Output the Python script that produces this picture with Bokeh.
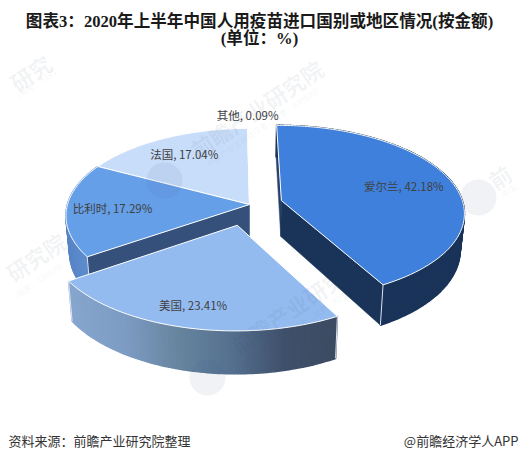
import math
from bokeh.plotting import figure
from bokeh.models import Range1d
from bokeh.core.properties import value
from bokeh.embed import file_html
from bokeh.resources import INLINE

# ---- data ----
CATEGORIES = ["爱尔兰", "美国", "比利时", "法国", "其他"]
SHARES = [42.18, 23.41, 17.29, 17.04, 0.09]
TITLE_LINES = ["图表3：2020年上半年中国人用疫苗进口国别或地区情况(按金额)", "(单位：%)"]
SOURCE_TEXT = "资料来源：前瞻产业研究院整理"
BRAND_TEXT = "@前瞻经济学人APP"
WATERMARK_MAIN = ["前瞻产业研究院", "前瞻产业研究院", "研究", "研究院", "前"]
WATERMARK_SUB = ["中国产业咨询领导者（股票：839599）", "中国产业咨询领导者（股票：839599）",
                 "（股票：8395", "（股票：839599）", "中国"]

# ---- styling / layout ----
TOP_COLORS = ["#3f80dc", "#94bbf0", "#659fe8", "#c8ddf9", "#dfe9f7"]
EXPLODE = [0.182, 0.243, 0.0, 0.0, 0.0]
EXPLODE_SHIFT = [0.0, 2.0, 0.0, 0.0, 0.0]
LABEL_R = [0.72, 0.81, 0.75, 0.745, 1.2]
LABEL_SHIFT = [0.0, 1.0, 0.0, 0.0, 0.0]
START_ANGLE = -0.4
CX, CY, RX, RY, PERSP = 249.0, 204.0, 182.0, 86.0, 0.13
DEPTH, BOTTOM_SHRINK = 36.0, 0.98
W, H = 519, 460

CJK = value("'Noto Sans CJK SC'")
TITLE_FONT = value("'Liberation Serif', 'Noto Sans CJK SC'")
WM_ANGLE = 34.0
WM_MAIN_POS = [(256, 108), (296, 304), (30, 72), (35, 256), (499, 176)]
WM_SUB_POS = [(264, 125), (304, 321), (34, 84), (38, 280), (508, 190)]
WM_LOGOS = [(164, 180), (207, 377), (478, 197)]


def project(i, theta, r=1.0, bottom=False):
    """Screen position of polar point (theta deg, r) of slice i, with perspective."""
    m = _mid[i] + math.radians(EXPLODE_SHIFT[i])
    e = EXPLODE[i]
    X = e * math.sin(m) + r * math.sin(math.radians(theta))
    Y = -e * math.cos(m) - r * math.cos(math.radians(theta))
    s = 1.0 / (1.0 - PERSP * Y)
    x, y = RX * X * s, RY * Y * s
    if bottom:
        return CX + x * BOTTOM_SHRINK, CY + y * BOTTOM_SHRINK + DEPTH * s + 0.02 * y
    return CX + x, CY + y


def hex2rgb(h):
    return tuple(int(h[k:k + 2], 16) for k in (1, 3, 5))


def ramp(stops, t):
    t = max(0.0, min(1.0, t))
    f = t * (len(stops) - 1)
    k = min(int(f), len(stops) - 2)
    a, b = hex2rgb(stops[k]), hex2rgb(stops[k + 1])
    u = f - k
    return "#%02x%02x%02x" % tuple(round(a[j] + (b[j] - a[j]) * u) for j in range(3))


total = sum(SHARES)
_bounds = []
_a = START_ANGLE
for v in SHARES:
    _bounds.append((_a, _a + v / total * 360.0))
    _a += v / total * 360.0
_mid = [math.radians((a + b) / 2) for a, b in _bounds]

p = figure(width=W, height=H, output_backend="svg", toolbar_location=None,
           x_range=Range1d(0, W), y_range=Range1d(H, 0),
           min_border=0, outline_line_color=None, background_fill_color="white")
p.axis.visible = False
p.grid.visible = False


def arc(i, n_per_deg=1.0):
    a, b = _bounds[i]
    n = max(2, int(abs(b - a) * n_per_deg))
    return [a + (b - a) * k / n for k in range(n + 1)]


def draw_top(i):
    th = arc(i)
    pts = [project(i, 0, 0.0)] + [project(i, t) for t in th]
    p.patch([q[0] for q in pts], [q[1] for q in pts], fill_color=TOP_COLORS[i],
            line_color="white", line_width=1.0, line_join="round")


def draw_cut(i, theta, color):
    a0, a1 = project(i, theta, 0.0), project(i, theta)
    b0, b1 = project(i, theta, 0.0, True), project(i, theta, 1.0, True)
    p.patch([a0[0], a1[0], b1[0], b0[0]], [a0[1], a1[1], b1[1], b0[1]], fill_color=color,
            line_color=color, line_width=0.5)


def draw_wall(i, stops, xlo, xhi):
    th = arc(i)
    xs, ys, cs = [], [], []
    for t0, t1 in zip(th[:-1], th[1:]):
        a0, a1 = project(i, t0), project(i, t1)
        b0, b1 = project(i, t0, 1.0, True), project(i, t1, 1.0, True)
        xs.append([a0[0], a1[0], b1[0], b0[0]])
        ys.append([a0[1], a1[1], b1[1], b0[1]])
        cs.append(ramp(stops, ((a0[0] + a1[0]) / 2 - xlo) / (xhi - xlo)))
    p.patches(xs, ys, fill_color=cs, line_color=cs, line_width=1.5)


def edge(i, theta, r=1.0, color="#dfe6f0"):
    a, b = project(i, theta, r), project(i, theta, r, True)
    p.line([a[0], b[0]], [a[1], b[1]], line_color=color, line_width=1.0)


IRE, USA, BEL, FRA, OTH = range(5)

# back slices
draw_top(FRA)
draw_top(OTH)
draw_wall(BEL, ["#5784c4", "#5f8fd2"], 65, 90)
draw_cut(BEL, _bounds[BEL][0], "#35507a")
edge(BEL, _bounds[BEL][0])
draw_top(BEL)
# Ireland
draw_cut(IRE, _bounds[IRE][0], "#27406a")
draw_wall(IRE, ["#1a3359", "#1a3359"], 0, 1)
draw_cut(IRE, _bounds[IRE][1], "#1a3359")
edge(IRE, _bounds[IRE][1])
draw_top(IRE)
# USA
draw_wall(USA, ["#86a6ce", "#7d9cc4", "#67859f", "#55708f", "#3f506a", "#3c4b62"], 68, 338)
edge(USA, _bounds[USA][0])
edge(USA, _bounds[USA][1])
draw_top(USA)

# watermarks
p.scatter([q[0] for q in WM_LOGOS], [q[1] for q in WM_LOGOS], size=36, marker="circle",
          fill_color="#3a5a8c", fill_alpha=0.08, line_color=None)
p.text([u[0] for u in WM_MAIN_POS], [u[1] for u in WM_MAIN_POS], text=WATERMARK_MAIN,
       angle=WM_ANGLE, angle_units="deg", text_align="center", text_baseline="middle",
       text_font=CJK, text_font_style="bold", text_font_size="22px", text_color="#2f4468", text_alpha=0.07)
p.text([u[0] for u in WM_SUB_POS], [u[1] for u in WM_SUB_POS],
       text=WATERMARK_SUB, angle=WM_ANGLE, angle_units="deg",
       text_align="center", text_baseline="middle", text_font=CJK, text_font_size="8px",
       text_color="#2f4468", text_alpha=0.07)

# data labels
lx, ly, lt = [], [], []
for i, (c, v) in enumerate(zip(CATEGORIES, SHARES)):
    q = project(i, math.degrees(_mid[i]) + LABEL_SHIFT[i], LABEL_R[i])
    lx.append(q[0]); ly.append(q[1]); lt.append(f"{c}, {v:.2f}%")
p.text(lx, ly, text=lt, text_align="center", text_baseline="middle", text_font=CJK,
       text_font_size="11.5px", text_color="#404040")

# title and footer
p.text([259, 259], [21, 38], text=TITLE_LINES, text_align="center", text_baseline="middle",
       text_font=TITLE_FONT, text_font_style="bold",
       text_font_size="16.6px", text_color="#1a1a1a")
p.text([8], [440], text=[SOURCE_TEXT], text_align="left", text_baseline="middle", text_font=CJK,
       text_font_size="13px", text_color="#333333")
p.text([518], [440], text=[BRAND_TEXT], text_align="right", text_baseline="middle", text_font=CJK,
       text_font_size="13px", text_color="#333333")

open("out.html", "w").write(file_html(p, INLINE))
